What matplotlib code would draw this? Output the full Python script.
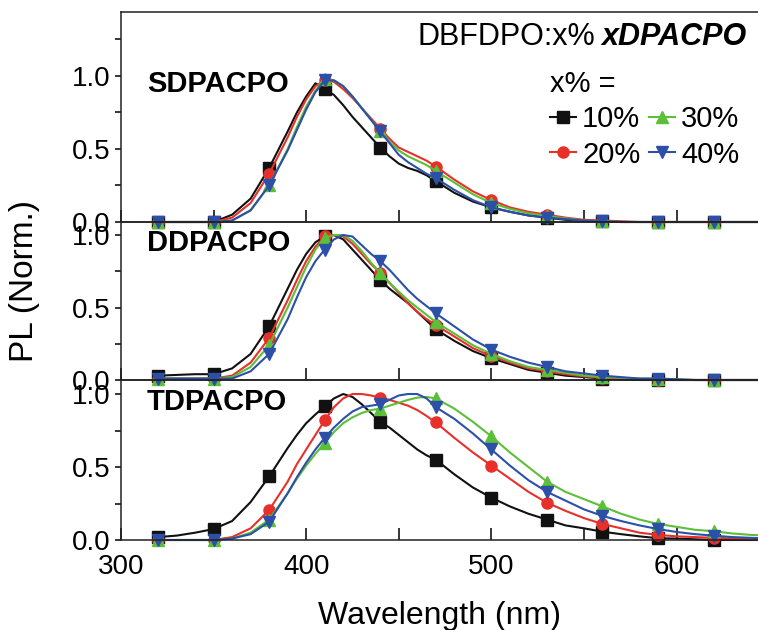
import matplotlib
matplotlib.use('Agg')
import matplotlib.pyplot as plt
from matplotlib.ticker import MultipleLocator
from matplotlib.lines import Line2D

plt.rcParams['font.family'] = ['Liberation Sans', 'DejaVu Sans']

# wavelength grid (nm) the curves were read on; markers every 30 nm
wavelength = [320, 330, 340, 350, 360, 370, 380,
              390, 395, 400, 405, 410, 415, 420, 425, 430, 435, 440, 445, 450, 455, 460, 465, 470,
              480, 490, 500, 510, 520, 530, 540, 550, 560, 570, 580, 590, 600, 610, 620, 630, 640, 650]
marker_nm = [320, 350, 380, 410, 440, 470, 500, 530, 560, 590, 620]

concentrations = ['10%', '20%', '30%', '40%']
colors = ['#111111', '#e8302a', '#5cbf3a', '#2c4fa8']
markers = ['s', 'o', '^', 'v']

# SDPACPO
sd_10 = [0, 0, 0, 0, 0.05, 0.16, 0.37,
         0.62, 0.75, 0.86, 0.95, 0.91, 0.87, 0.80, 0.72, 0.65, 0.58, 0.51, 0.45, 0.40, 0.37, 0.35, 0.32, 0.28,
         0.20, 0.14, 0.10, 0.07, 0.045, 0.03, 0.015, 0.01, 0.005, 0, 0, 0, 0, 0, 0, 0, 0, 0]
sd_20 = [0, 0, 0, 0, 0.03, 0.13, 0.33,
         0.58, 0.72, 0.84, 0.93, 0.97, 0.96, 0.91, 0.85, 0.78, 0.71, 0.64, 0.57, 0.51, 0.48, 0.45, 0.42, 0.38,
         0.29, 0.21, 0.15, 0.10, 0.07, 0.05, 0.03, 0.015, 0.01, 0.005, 0, 0, 0, 0, 0, 0, 0, 0]
sd_30 = [0, 0, 0, 0, 0.01, 0.08, 0.25,
         0.50, 0.65, 0.79, 0.90, 0.98, 0.97, 0.93, 0.86, 0.78, 0.70, 0.62, 0.55, 0.49, 0.45, 0.42, 0.39, 0.35,
         0.27, 0.19, 0.13, 0.09, 0.06, 0.04, 0.025, 0.01, 0.005, 0, 0, 0, 0, 0, 0, 0, 0, 0]
sd_40 = [0, 0, 0, 0, 0.01, 0.08, 0.25,
         0.49, 0.63, 0.77, 0.89, 0.97, 0.97, 0.93, 0.86, 0.78, 0.70, 0.62, 0.54, 0.46, 0.41, 0.37, 0.33, 0.30,
         0.22, 0.15, 0.10, 0.07, 0.045, 0.03, 0.02, 0.01, 0.005, 0, 0, 0, 0, 0, 0, 0, 0, 0]

# DDPACPO
dd_10 = [0.03, 0.035, 0.04, 0.04, 0.08, 0.18, 0.37,
         0.63, 0.76, 0.87, 0.95, 0.99, 1.0, 0.97, 0.90, 0.83, 0.76, 0.69, 0.63, 0.58, 0.53, 0.47, 0.41, 0.35,
         0.27, 0.20, 0.15, 0.11, 0.07, 0.05, 0.03, 0.02, 0.01, 0.005, 0, 0, 0, 0, 0, 0, 0, 0]
dd_20 = [0.01, 0.01, 0.01, 0.01, 0.03, 0.12, 0.29,
         0.55, 0.69, 0.82, 0.92, 0.99, 1.0, 0.99, 0.94, 0.87, 0.80, 0.74, 0.67, 0.60, 0.53, 0.47, 0.42, 0.38,
         0.30, 0.22, 0.165, 0.12, 0.08, 0.06, 0.04, 0.025, 0.015, 0.01, 0.005, 0, 0, 0, 0, 0, 0, 0]
dd_30 = [0.01, 0.01, 0.01, 0.01, 0.02, 0.09, 0.24,
         0.50, 0.64, 0.78, 0.90, 0.98, 1.0, 1.0, 0.96, 0.89, 0.81, 0.74, 0.67, 0.61, 0.55, 0.50, 0.45, 0.40,
         0.32, 0.24, 0.18, 0.13, 0.09, 0.07, 0.05, 0.03, 0.02, 0.015, 0.01, 0.01, 0.005, 0, 0, 0, 0, 0]
dd_40 = [0.01, 0.01, 0.01, 0.01, 0.01, 0.06, 0.18,
         0.42, 0.57, 0.71, 0.82, 0.90, 0.97, 1.0, 0.99, 0.93, 0.87, 0.82, 0.76, 0.69, 0.62, 0.56, 0.51, 0.46,
         0.37, 0.28, 0.21, 0.16, 0.12, 0.09, 0.06, 0.045, 0.03, 0.02, 0.01, 0.01, 0.005, 0, 0, 0, 0, 0]

# TDPACPO
td_10 = [0.02, 0.03, 0.05, 0.075, 0.13, 0.26, 0.435,
         0.63, 0.72, 0.80, 0.86, 0.915, 0.97, 1.0, 0.98, 0.93, 0.87, 0.81, 0.77, 0.72, 0.67, 0.62, 0.58, 0.55,
         0.45, 0.36, 0.29, 0.23, 0.18, 0.14, 0.10, 0.08, 0.057, 0.04, 0.025, 0.012, 0.01, 0.005, 0, 0, 0, 0]
td_20 = [0, 0, 0, 0, 0.02, 0.08, 0.205,
         0.40, 0.52, 0.62, 0.72, 0.82, 0.91, 0.97, 1.0, 1.0, 0.99, 0.975, 0.96, 0.94, 0.92, 0.89, 0.85, 0.805,
         0.70, 0.60, 0.51, 0.42, 0.33, 0.256, 0.20, 0.15, 0.11, 0.08, 0.05, 0.035, 0.025, 0.02, 0.015, 0.01, 0.005, 0]
td_30 = [0, 0, 0, 0, 0.01, 0.05, 0.14,
         0.32, 0.42, 0.51, 0.59, 0.665, 0.74, 0.80, 0.84, 0.87, 0.89, 0.90, 0.92, 0.94, 0.96, 0.975, 0.98, 0.97,
         0.90, 0.81, 0.71, 0.60, 0.50, 0.40, 0.33, 0.28, 0.23, 0.18, 0.14, 0.11, 0.09, 0.07, 0.06, 0.045, 0.035, 0.03]
td_40 = [0, 0, 0, 0, 0.01, 0.04, 0.125,
         0.32, 0.43, 0.53, 0.62, 0.70, 0.77, 0.83, 0.88, 0.91, 0.92, 0.93, 0.96, 0.99, 1.0, 1.0, 0.97, 0.91,
         0.83, 0.73, 0.62, 0.51, 0.41, 0.33, 0.27, 0.21, 0.165, 0.13, 0.10, 0.075, 0.055, 0.04, 0.03, 0.02, 0.015, 0.01]

panels = [
    ('SDPACPO', [sd_10, sd_20, sd_30, sd_40], 1.438),
    ('DDPACPO', [dd_10, dd_20, dd_30, dd_40], 1.09),
    ('TDPACPO', [td_10, td_20, td_30, td_40], 1.096),
]

mark_idx = [wavelength.index(w) for w in marker_nm]

W, H = 758, 630
fig = plt.figure(figsize=(W / 100, H / 100), dpi=100)

# panel edges in pixels (top, bottom)
edges = [(12, 222), (222, 380), (380, 540)]
left_px = 121

axes = []
for (name, series, ymax), (top, bot) in zip(panels, edges):
    ax = fig.add_axes([left_px / W, 1 - bot / H, 1 - left_px / W, (bot - top) / H])
    ax.patch.set_visible(False)
    for vals, c, m in zip(series, colors, markers):
        ax.plot(wavelength, vals, color=c, lw=1.5, marker=m, markersize=8,
                markevery=mark_idx, clip_on=False)
    ax.set_xlim(300, 644)
    ax.set_ylim(0, ymax)
    ax.xaxis.set_major_locator(MultipleLocator(100))
    ax.xaxis.set_minor_locator(MultipleLocator(50))
    ax.yaxis.set_major_locator(MultipleLocator(0.5))
    ax.yaxis.set_minor_locator(MultipleLocator(0.25))
    ax.tick_params(axis='x', which='both', direction='in', length=9, width=1.1,
                   labelsize=20, pad=10, top=False)
    ax.tick_params(axis='y', which='both', direction='out', length=4.5, width=1.1,
                   labelsize=20, pad=3, right=False)
    for s in ax.spines.values():
        s.set_linewidth(1.1)
        s.set_color('#222222')
    ax.spines['right'].set_visible(False)
    ax.text(314, 0.89, name, fontsize=21, fontweight='bold', ha='left', va='baseline')
    axes.append(ax)

for ax in axes[:-1]:
    ax.tick_params(axis='x', labelbottom=False)

# legend
handles = [Line2D([], [], color=c, marker=m, lw=1.5, markersize=8)
           for c, m in zip(colors, markers)]
axes[0].legend(handles, concentrations, ncol=2, loc='upper left',
               bbox_to_anchor=(550 / W, 1 - 70 / H), bbox_transform=fig.transFigure,
               frameon=False, fontsize=21, title='x% =', title_fontsize=21, alignment='left',
               handlelength=0.9, handletextpad=0.2, columnspacing=0.3, labelspacing=0.25,
               borderpad=0, borderaxespad=0)

# header text with mixed weight
bold_part = fig.text(747 / W, 1 - 45 / H, 'xDPACPO', fontsize=22, fontweight='bold',
                     fontstyle='italic', ha='right', va='baseline')
plt.annotate('DBFDPO:x%', xy=(0, 0), xycoords=bold_part, xytext=(-5, 0),
             textcoords='offset points', fontsize=22, ha='right', va='bottom',
             annotation_clip=False)

fig.text(25 / W, 1 - 281 / H, 'PL (Norm.)', fontsize=24, rotation=90, ha='center', va='center')
fig.text((left_px + W) / 2 / W, 6 / H, 'Wavelength (nm)', fontsize=23, ha='center', va='baseline')

fig.savefig('out.png', dpi=100)
